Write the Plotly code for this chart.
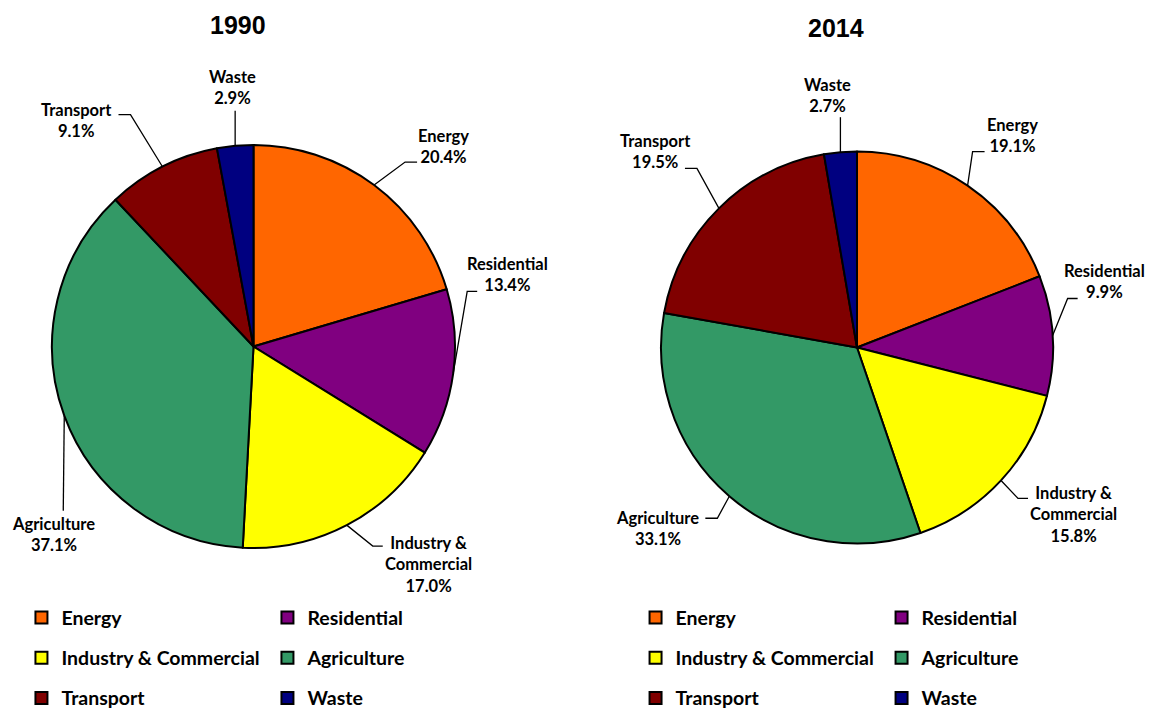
import math
import plotly.graph_objects as go

# ---------------- data ----------------
categories = ["Energy", "Residential", "Industry & Commercial", "Agriculture", "Transport", "Waste"]
label_names = ["Energy", "Residential", "Industry &<br>Commercial", "Agriculture", "Transport", "Waste"]
years = ["1990", "2014"]
values_1990 = [20.4, 13.4, 17.0, 37.1, 9.1, 2.9]
values_2014 = [19.1, 9.9, 15.8, 33.1, 19.5, 2.7]
colors = ["#FF6600", "#800080", "#FFFF00", "#339966", "#800000", "#000080"]

# ---------------- layout (pixels) ----------------
W, H = 1155, 710
M_L, M_R, M_T, M_B = 22, 28, 0, 0
PW, PH = W - M_L - M_R, H - M_T - M_B


def px2x(px):
    return (px - M_L) / PW


def py2y(py):
    return 1 - (py - M_T) / PH


# pie geometry: centre x, centre y, radius (px)
pie_geom = [(253.5, 346.5, 201.5), (857.0, 347.5, 196.0)]
title_pos = [(237.5, 25), (836, 28)]

# label placement relative to slice anchor (px): label centre, leader knee, horizontal tail
label_off = [
    [(69, -39), (54, -99), (82, 39), (-11, 119), (-86, -46), (-3, -58)],
    [(45, -50), (52, -54), (72, 34), (-72, 32), (-63, -57), (-13, -57)],
]
knee_off = [
    [(31, -23), (14, -82), (26, 21), (-1, 95), (-32, -52), (0, -35)],
    [(5, -34), (15, -37), (17, 18), (-12, 22), (-22, -40), (0, -35)],
]
tail_len = [
    [12, 10, 10, 0, -12, 0],
    [12, 10, 10, -12, -12, 0],
]

label_font = dict(family="Lato", size=16.5, color="black", weight="bold")
title_font = dict(family="Liberation Sans", size=25, color="black", weight="bold")
legend_span = '<span style="font-size:19.5px;baseline-shift:4px">%s</span>'

fig = go.Figure()
annotations = []
shapes = []

for k, (yr, vals) in enumerate(zip(years, [values_1990, values_2014])):
    cx, cy, r = pie_geom[k]
    fig.add_trace(go.Pie(
        labels=[legend_span % c for c in categories],
        values=vals,
        sort=False,
        direction="clockwise",
        rotation=0,
        textinfo="none",
        marker=dict(colors=colors, line=dict(color="black", width=2)),
        domain=dict(x=[px2x(cx - r), px2x(cx + r)], y=[py2y(cy + r), py2y(cy - r)]),
        legend="legend" if k == 0 else "legend2",
        legendgroup="g" + yr,
        name=yr,
        hoverinfo="label+percent",
    ))
    total = sum(vals)
    cum = 0.0
    for i, v in enumerate(vals):
        mid = (cum + v / 2) / total
        cum += v
        th = 2 * math.pi * mid
        ax = cx + r * math.sin(th)
        ay = cy - r * math.cos(th)
        kx = ax + knee_off[k][i][0]
        ky = ay + knee_off[k][i][1]
        path = "M %f %f L %f %f" % (px2x(ax), py2y(ay), px2x(kx), py2y(ky))
        if tail_len[k][i]:
            path += " L %f %f" % (px2x(kx + tail_len[k][i]), py2y(ky))
        shapes.append(dict(type="path", path=path, xref="paper", yref="paper",
                           line=dict(color="black", width=1.3)))
        lx = ax + label_off[k][i][0]
        ly = ay + label_off[k][i][1]
        annotations.append(dict(
            text="%s<br>%.1f%%" % (label_names[i], v),
            x=px2x(lx), y=py2y(ly), xref="paper", yref="paper",
            xanchor="center", yanchor="middle", showarrow=False,
            font=label_font, align="center",
        ))
    tx, ty = title_pos[k]
    annotations.append(dict(text=yr, x=px2x(tx), y=py2y(ty), xref="paper", yref="paper",
                            xanchor="center", yanchor="middle", showarrow=False, font=title_font))

legend_common = dict(
    orientation="h",
    traceorder="normal",
    entrywidth=201,
    entrywidthmode="pixels",
    yanchor="top",
    y=py2y(592.5),
    bgcolor="rgba(0,0,0,0)",
    font=dict(family="Lato", size=28.6, color="black", weight="bold"),
    itemclick=False,
    itemdoubleclick=False,
)

fig.update_layout(
    width=W, height=H,
    margin=dict(l=M_L, r=M_R, t=M_T, b=M_B, autoexpand=False),
    paper_bgcolor="white",
    plot_bgcolor="white",
    showlegend=True,
    legend=dict(x=-0.0005, xanchor="left", **legend_common),
    legend2=dict(x=1.0005, xanchor="right", **legend_common),
    annotations=annotations,
    shapes=shapes,
)

fig.write_html("out.html")
